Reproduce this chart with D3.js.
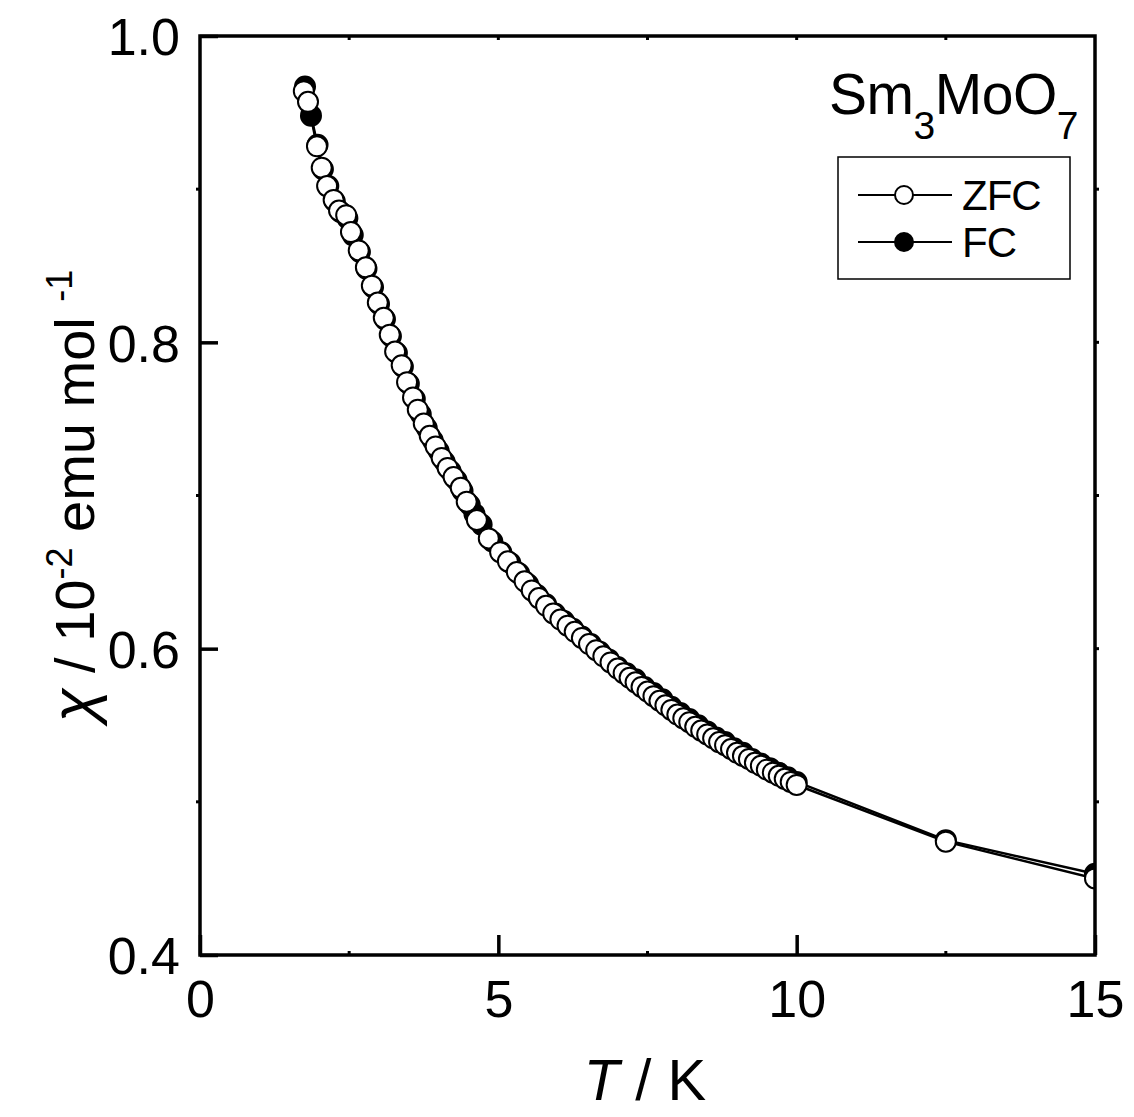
<!DOCTYPE html>
<html><head><meta charset="utf-8">
<script src="https://cdn.jsdelivr.net/npm/d3@7"></script>
<style>body{margin:0;background:#fff}svg{display:block}text{font-family:"Liberation Sans",Arial,sans-serif;fill:#000}</style>
</head><body><svg id="c" width="1134" height="1117"></svg>
<script>
// ZFC data: temperature (K) and susceptibility (10^-2 emu/mol)
const zfcT = [1.74,1.81,1.96,2.04,2.13,2.24,2.33,2.45,2.53,2.66,2.78,2.88,2.98,3.08,3.18,3.27,3.38,3.47,3.57,3.65,3.75,3.85,3.95,4.05,4.15,4.25,4.37,4.47,4.64,4.84,5.03,5.16,5.31,5.44,5.56,5.68,5.80,5.92,6.04,6.16,6.28,6.40,6.52,6.64,6.76,6.88,7.00,7.10,7.20,7.30,7.40,7.50,7.60,7.70,7.80,7.90,8.00,8.10,8.20,8.30,8.40,8.50,8.60,8.70,8.80,8.90,9.00,9.10,9.20,9.30,9.40,9.50,9.60,9.70,9.80,9.90,10.00,12.50,15.00];
const zfcChi = [0.964,0.957,0.928,0.914,0.902,0.893,0.886,0.883,0.872,0.860,0.849,0.837,0.826,0.816,0.805,0.794,0.785,0.774,0.764,0.756,0.747,0.739,0.732,0.7245,0.718,0.712,0.705,0.696,0.684,0.672,0.663,0.657,0.650,0.644,0.638,0.633,0.628,0.623,0.619,0.615,0.611,0.607,0.603,0.599,0.595,0.591,0.587,0.584,0.581,0.578,0.575,0.572,0.569,0.566,0.563,0.560,0.557,0.5545,0.552,0.549,0.5465,0.544,0.5415,0.539,0.537,0.5345,0.532,0.530,0.528,0.5255,0.5235,0.521,0.519,0.517,0.515,0.513,0.511,0.474,0.450];
// FC data
const fcT = [1.76,1.86,1.97,2.06,2.15,2.26,2.36,2.47,2.56,2.68,2.79,2.90,3.00,3.10,3.20,3.30,3.40,3.50,3.60,3.70,3.80,3.90,4.00,4.10,4.20,4.30,4.40,4.52,4.60,4.72,4.90,5.05,5.20,5.35,5.50,5.65,5.80,5.95,6.10,6.25,6.40,6.55,6.70,6.85,7.00,7.15,7.30,7.45,7.60,7.75,7.90,8.05,8.20,8.35,8.50,8.65,8.80,8.95,9.10,9.25,9.40,9.55,9.70,9.85,10.00,12.50,15.00];
const fcChi = [0.967,0.948,0.929,0.913,0.902,0.892,0.885,0.881,0.870,0.859,0.848,0.836,0.825,0.815,0.804,0.793,0.784,0.773,0.763,0.753,0.744,0.736,0.729,0.722,0.716,0.710,0.703,0.694,0.688,0.681,0.670,0.663,0.656,0.649,0.642,0.635,0.629,0.623,0.618,0.613,0.608,0.603,0.598,0.593,0.588,0.584,0.580,0.575,0.571,0.567,0.562,0.558,0.554,0.550,0.546,0.542,0.539,0.535,0.532,0.528,0.525,0.522,0.519,0.516,0.513,0.475,0.453];
const xMajor = [0,5,10,15];
const xMinor = [2.5,7.5,12.5];
const yMajor = [0.4,0.6,0.8,1.0];
const yMinor = [0.5,0.7,0.9];
const yLabels = ["0.4","0.6","0.8","1.0"];

const svg = d3.select("#c");
const L=200,R=1095,T=36,B=955;
const x = d3.scaleLinear().domain([0,15]).range([L,R]);
const y = d3.scaleLinear().domain([0.4,1.0]).range([B,T]);

svg.append("defs").append("clipPath").attr("id","clip")
  .append("rect").attr("x",L).attr("y",T).attr("width",R-L).attr("height",B-T);

const zfc = zfcT.map((t,i)=>({t,c:zfcChi[i]}));
const fc = fcT.map((t,i)=>({t,c:fcChi[i]}));
const line = d3.line().x(d=>x(d.t)).y(d=>y(d.c));
const g = svg.append("g").attr("clip-path","url(#clip)");
function series(data, fill){
  g.append("path").datum(data).attr("d",line).attr("fill","none").attr("stroke","#000").attr("stroke-width",2.5);
  g.selectAll(null).data(data).enter().append("circle")
    .attr("cx",d=>x(d.t)).attr("cy",d=>y(d.c)).attr("r",10)
    .attr("fill",fill).attr("stroke","#000").attr("stroke-width",2);
}
series(fc,"#000");
series(zfc,"#fff");

// axes
const fs = 52;
const ax = svg.append("g").attr("transform",`translate(0,${B})`)
  .call(d3.axisBottom(x).tickValues(xMajor).tickSize(-20).tickPadding(0).tickFormat(d3.format("d")));
ax.select(".domain").remove();
ax.selectAll("line").attr("stroke","#000").attr("stroke-width",3.5);
ax.selectAll("text").attr("font-size",fs).attr("dy",null).attr("y",62).style("font-family",'"Liberation Sans",Arial,sans-serif');
const ay = svg.append("g").attr("transform",`translate(${L},0)`)
  .call(d3.axisLeft(y).tickValues(yMajor).tickSize(-18).tickPadding(0).tickFormat((d,i)=>yLabels[i]));
ay.select(".domain").remove();
ay.selectAll("line").attr("stroke","#000").attr("stroke-width",3.5);
ay.selectAll("text").attr("font-size",fs).attr("x",-20).attr("dy","0.36em").style("font-family",'"Liberation Sans",Arial,sans-serif');

// minor ticks
const mt = svg.append("g").attr("stroke","#000").attr("stroke-width",3);
xMinor.forEach(v=>{ mt.append("line").attr("x1",x(v)).attr("x2",x(v)).attr("y1",B).attr("y2",B-4);
  mt.append("line").attr("x1",x(v)).attr("x2",x(v)).attr("y1",T).attr("y2",T+4);});
[5,10].forEach(v=>mt.append("line").attr("x1",x(v)).attr("x2",x(v)).attr("y1",T).attr("y2",T+4));
yMinor.forEach(v=>{ mt.append("line").attr("x1",L-4).attr("x2",L).attr("y1",y(v)).attr("y2",y(v));});
[0.5,0.6,0.7,0.8,0.9].forEach(v=>mt.append("line").attr("x1",R).attr("x2",R+4).attr("y1",y(v)).attr("y2",y(v)));

// frame
svg.append("rect").attr("x",L).attr("y",T).attr("width",R-L).attr("height",B-T)
  .attr("fill","none").attr("stroke","#000").attr("stroke-width",3.5);

// axis titles
const xt = svg.append("text").attr("x",645).attr("y",1100).attr("text-anchor","middle").attr("font-size",58);
xt.append("tspan").attr("font-style","italic").text("T");
xt.append("tspan").text(" / K");

const yt = svg.append("text").attr("transform","translate(94,496) rotate(-90)").attr("text-anchor","middle").attr("font-size",56);
yt.append("tspan").attr("font-style","italic").attr("font-size",62).text("χ");
yt.append("tspan").text(" / 10");
yt.append("tspan").attr("font-size",36).attr("dy",-22).text("-2");
yt.append("tspan").attr("dy",22).text(" emu mol ");
yt.append("tspan").attr("font-size",36).attr("dy",-22).text("-1");

// compound label
const cl = svg.append("text").attr("x",829).attr("y",114).attr("font-size",57).attr("letter-spacing",-0.5);
cl.append("tspan").text("Sm");
cl.append("tspan").attr("font-size",39).attr("dy",25).text("3");
cl.append("tspan").attr("dy",-25).text("MoO");
cl.append("tspan").attr("font-size",39).attr("dy",25).text("7");

// legend
svg.append("rect").attr("x",838).attr("y",157).attr("width",232).attr("height",122)
  .attr("fill","#fff").attr("stroke","#000").attr("stroke-width",1.5);
const leg = [{name:"ZFC",fill:"#fff",yy:195},{name:"FC",fill:"#000",yy:242}];
leg.forEach(e=>{
  svg.append("line").attr("x1",858).attr("x2",952).attr("y1",e.yy).attr("y2",e.yy).attr("stroke","#000").attr("stroke-width",2);
  svg.append("circle").attr("cx",904).attr("cy",e.yy).attr("r",9).attr("fill",e.fill).attr("stroke","#000").attr("stroke-width",2);
  svg.append("text").attr("x",962).attr("y",e.yy+15).attr("font-size",42).attr("letter-spacing",-1).text(e.name);
});
</script></body></html>
